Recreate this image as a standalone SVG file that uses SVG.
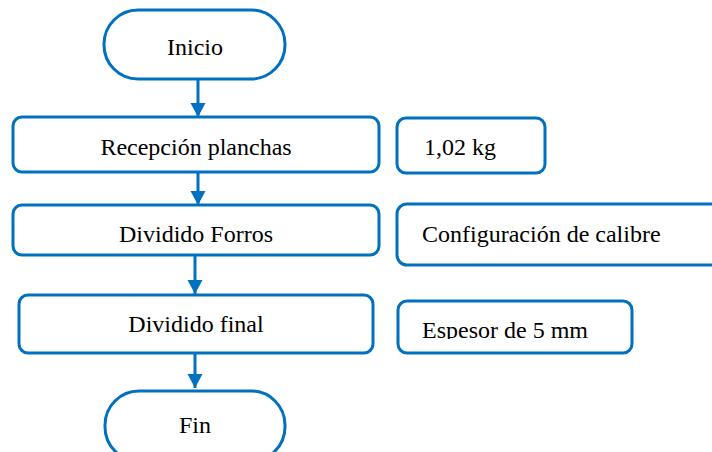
<svg xmlns="http://www.w3.org/2000/svg" width="712" height="452" viewBox="0 0 712 452">
<style>
.box{fill:#fff;stroke:#0070C0;stroke-width:3}
.t{font-family:"Liberation Serif","Times New Roman",serif;font-size:24px;fill:#000}
.c{stroke:#0070C0;stroke-width:3;fill:none}
</style>
<defs>
<marker id="ah" markerUnits="userSpaceOnUse" markerWidth="16" markerHeight="16" refX="14" refY="7.5" orient="auto">
<path d="M0,0 L14,7.5 L0,15 z" fill="#0070C0"/>
</marker>
<clipPath id="clipEsp"><rect x="398" y="300" width="234" height="39"/></clipPath>
</defs>
<rect width="712" height="452" fill="#fff"/>
<g id="connectors">
<line class="c" x1="198" y1="80" x2="198" y2="117" marker-end="url(#ah)"/>
<line class="c" x1="198" y1="172" x2="198" y2="205" marker-end="url(#ah)"/>
<line class="c" x1="195" y1="255" x2="195" y2="294" marker-end="url(#ah)"/>
<line class="c" x1="195" y1="353" x2="195" y2="388" marker-end="url(#ah)"/>
</g>
<g id="inicio">
<rect class="box" x="104" y="10" width="181" height="69" rx="34" ry="34"/>
<text class="t" x="195" y="55" text-anchor="middle">Inicio</text>
</g>
<g id="recepcion">
<rect class="box" x="13" y="117" width="366" height="55" rx="9"/>
<text class="t" x="196" y="155" text-anchor="middle">Recepción planchas</text>
</g>
<g id="peso">
<rect class="box" x="397" y="118" width="148" height="55" rx="9"/>
<text class="t" x="424" y="155">1,02 kg</text>
</g>
<g id="forros">
<rect class="box" x="13" y="205" width="366" height="50" rx="9"/>
<text class="t" x="196" y="242" text-anchor="middle">Dividido Forros</text>
</g>
<g id="calibre">
<rect class="box" x="397" y="204" width="330" height="61" rx="10"/>
<text class="t" x="422" y="242">Configuración de calibre</text>
</g>
<g id="final">
<rect class="box" x="19" y="295" width="354" height="58" rx="9"/>
<text class="t" x="196" y="332" text-anchor="middle">Dividido final</text>
</g>
<g id="espesor">
<rect class="box" x="398" y="301" width="234" height="52" rx="9"/>
<text class="t" x="422" y="338" clip-path="url(#clipEsp)">Espesor de 5 mm</text>
</g>
<g id="fin">
<rect class="box" x="105" y="391" width="180" height="70" rx="34" ry="34"/>
<text class="t" x="195" y="433" text-anchor="middle">Fin</text>
</g>
</svg>
